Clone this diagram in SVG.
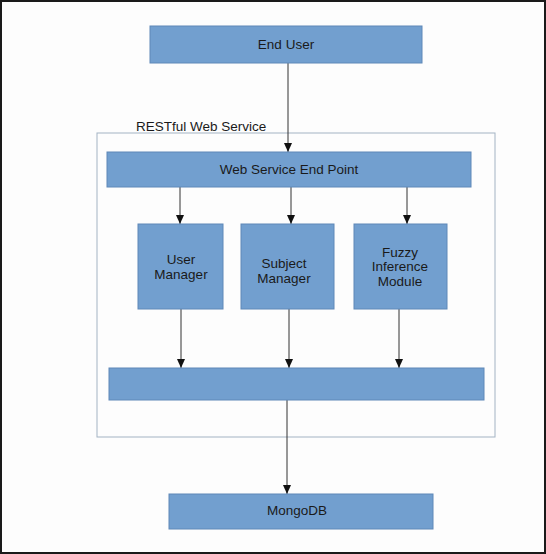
<svg xmlns="http://www.w3.org/2000/svg" width="546" height="554" viewBox="0 0 546 554">
<defs>
<style>
.box{fill:#729fcf;stroke:#5f88b8;stroke-width:1}
.t{font-family:"Liberation Sans",Arial,sans-serif;font-size:13.5px;fill:#1a1a1a;text-anchor:middle}
.c{stroke:#333;stroke-width:1;fill:none;marker-end:url(#ah)}
</style>
<marker id="ah" markerWidth="9" markerHeight="8" refX="9" refY="4" orient="auto" markerUnits="userSpaceOnUse" viewBox="0 0 9 8">
<path d="M0,0 L9,4 L0,8 Z" fill="#111"/>
</marker>
</defs>
<rect x="1" y="1" width="544" height="552" fill="#fdfdfd" stroke="#1a1a1a" stroke-width="2"/>
<g id="container">
<rect x="97" y="133" width="398" height="304" fill="none" stroke="#a3b3c3" stroke-width="1"/>
<text x="136" y="131" font-family="Liberation Sans,Arial,sans-serif" font-size="13.5" fill="#1a1a1a">RESTful Web Service</text>
</g>
<g id="connectors">
<line class="c" x1="288" y1="63" x2="288" y2="152"/>
<line class="c" x1="180" y1="187" x2="180" y2="224"/>
<line class="c" x1="291" y1="187" x2="291" y2="224"/>
<line class="c" x1="407" y1="187" x2="407" y2="224"/>
<line class="c" x1="181" y1="309" x2="181" y2="368"/>
<line class="c" x1="289" y1="309" x2="289" y2="368"/>
<line class="c" x1="399" y1="309" x2="399" y2="368"/>
<line class="c" x1="287" y1="400" x2="287" y2="494"/>
</g>
<g id="end-user">
<rect class="box" x="150" y="26" width="272" height="37"/>
<text class="t" x="286" y="49">End User</text>
</g>
<g id="web-service-end-point">
<rect class="box" x="107" y="152" width="364" height="35"/>
<text class="t" x="289" y="174">Web Service End Point</text>
</g>
<g id="user-manager">
<rect class="box" x="138" y="224" width="85" height="85"/>
<text class="t" x="181" y="264">User</text>
<text class="t" x="181" y="279">Manager</text>
</g>
<g id="subject-manager">
<rect class="box" x="241" y="224" width="93" height="85"/>
<text class="t" x="284" y="268">Subject</text>
<text class="t" x="284" y="283">Manager</text>
</g>
<g id="fuzzy-inference-module">
<rect class="box" x="354" y="224" width="93" height="85"/>
<text class="t" x="400" y="257">Fuzzy</text>
<text class="t" x="400" y="271">Inference</text>
<text class="t" x="400" y="286">Module</text>
</g>
<g id="data-layer">
<rect class="box" x="109" y="368" width="375" height="32"/>
</g>
<g id="mongodb">
<rect class="box" x="169" y="494" width="264" height="35"/>
<text class="t" x="297" y="515">MongoDB</text>
</g>
</svg>
